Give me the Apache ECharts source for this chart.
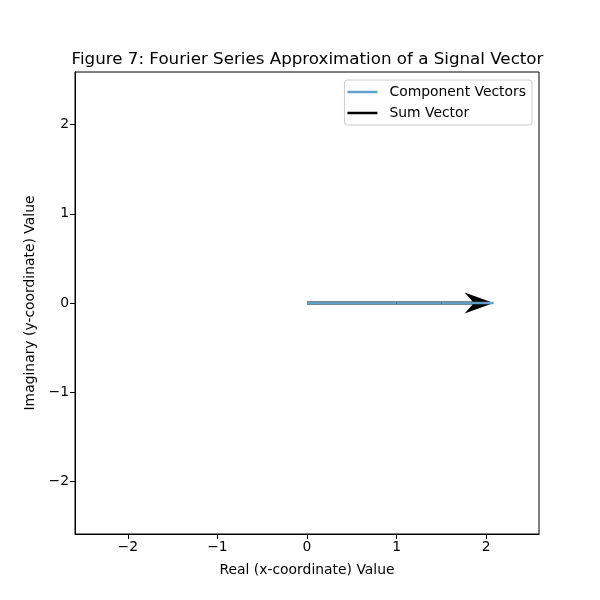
<!DOCTYPE html>
<html>
<head>
<meta charset="utf-8">
<script src="https://cdn.jsdelivr.net/npm/echarts@6/dist/echarts.min.js"></script>
<style>html,body{margin:0;padding:0;background:#fff}#c{width:600px;height:600px}</style>
</head>
<body>
<div id="c"></div>
<script>
// Component vectors (harmonic amplitudes, all along real axis)
const componentRe = [1, 0.5, 0.3333, 0.25];
const componentIm = [0, 0, 0, 0];
const tickValues = [-2, -1, 0, 1, 2];
const axisMin = -2.59, axisMax = 2.59;

// chain tip-to-tail
const chain = [[0, 0]];
let sx = 0, sy = 0;
for (let i = 0; i < componentRe.length; i++) {
  sx += componentRe[i]; sy += componentIm[i];
  chain.push([sx, sy]);
}
const sumVec = [[0, 0, sx, sy]];

const chart = echarts.init(document.getElementById('c'));
const font = 'DejaVu Sans';
const blue = '#62a0ca';

function arrowItem(params, api) {
  const p0 = api.coord([api.value(0), api.value(1)]);
  const p1 = api.coord([api.value(2), api.value(3)]);
  const dx = p1[0] - p0[0], dy = p1[1] - p0[1];
  const L = Math.sqrt(dx * dx + dy * dy);
  const ux = dx / L, uy = dy / L, nx = -uy, ny = ux;
  const hw = 1.6, headLen = 29, headHalf = 10.5, notch = 21;
  const pt = (a, b) => [p0[0] + ux * a + nx * b, p0[1] + uy * a + ny * b];
  const pts = [
    pt(0, -hw), pt(L - notch, -hw), pt(L - headLen, -headHalf), pt(L, 0),
    pt(L - headLen, headHalf), pt(L - notch, hw), pt(0, hw)
  ];
  return { type: 'polygon', shape: { points: pts }, style: { fill: '#000' } };
}

const compSeries = [];
for (let i = 0; i < componentRe.length; i++) {
  compSeries.push({
    name: 'Component Vectors', type: 'line', data: [chain[i], chain[i + 1]],
    symbol: 'none', lineStyle: { color: blue, width: 2.5 }, itemStyle: { color: blue },
    z: 5, silent: true
  });
}

const tickFmt = v => (v < 0 ? '\u2212' + Math.abs(v) : '' + v);

chart.setOption({
  animation: false,
  graphic: [{
    type: 'text', x: 307.5, y: 51,
    style: {
      text: 'Figure 7: Fourier Series Approximation of a Signal Vector',
      fontFamily: font, fontSize: 16.7, fill: '#000', textAlign: 'center', textVerticalAlign: 'top'
    }
  }],
  legend: {
    right: 68, top: 80, orient: 'vertical', itemGap: 7,
    backgroundColor: '#fff', borderColor: '#ccc', borderWidth: 1, borderRadius: 3,
    padding: [5, 6, 5, 3], itemWidth: 30, itemHeight: 2.5, icon: 'rect',
    textStyle: { fontFamily: font, fontSize: 13.9, color: '#000', padding: [0, 0, 0, 7] },
    data: [
      { name: 'Component Vectors', itemStyle: { color: blue } },
      { name: 'Sum Vector', itemStyle: { color: '#000' } }
    ]
  },
  grid: { left: 75, right: 61, top: 72, bottom: 66, show: true, borderColor: '#000', borderWidth: 1, containLabel: false },
  xAxis: {
    type: 'value', min: axisMin, max: axisMax,
    name: 'Real (x-coordinate) Value', nameLocation: 'middle', nameGap: 29,
    nameTextStyle: { fontFamily: font, fontSize: 13.9, color: '#000' },
    axisLine: { show: true, onZero: false, lineStyle: { color: '#000' } },
    axisTick: { show: true, length: 5, lineStyle: { color: '#000' }, customValues: tickValues },
    axisLabel: { fontFamily: font, fontSize: 13.9, color: '#000', margin: 6, customValues: tickValues, formatter: tickFmt },
    splitLine: { show: false }
  },
  yAxis: {
    type: 'value', min: axisMin, max: axisMax,
    name: 'Imaginary (y-coordinate) Value', nameLocation: 'middle', nameGap: 33,
    nameTextStyle: { fontFamily: font, fontSize: 13.9, color: '#000' },
    axisLine: { show: true, onZero: false, lineStyle: { color: '#000' } },
    axisTick: { show: true, length: 5, lineStyle: { color: '#000' }, customValues: tickValues },
    axisLabel: { fontFamily: font, fontSize: 13.9, color: '#000', margin: 6, customValues: tickValues, formatter: tickFmt },
    splitLine: { show: false }
  },
  series: [
    { name: 'Sum Vector', type: 'custom', renderItem: arrowItem, data: sumVec,
      encode: { x: [0, 2], y: [1, 3] }, itemStyle: { color: '#000' }, z: 3, silent: true, clip: true }
  ].concat(compSeries)
});
</script>
</body>
</html>
